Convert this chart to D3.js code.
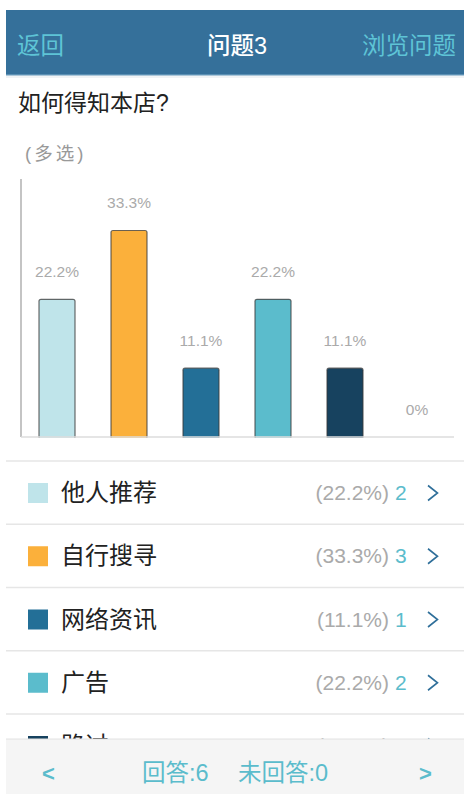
<!DOCTYPE html>
<html>
<head>
<meta charset="utf-8">
<script src="https://cdn.jsdelivr.net/npm/d3@7"></script>
<style>
  html, body { margin: 0; padding: 0; background: #fff; }
  svg { display: block; font-family: "Helvetica Neue", Arial, "Liberation Sans", "Noto Sans CJK SC", sans-serif; }
</style>
</head>
<body>
<div id="chart"></div>
<script>
// answers for question 3
let options = ["他人推荐", "自行搜寻", "网络资讯", "广告", "路过", "其他"];
let counts = [2, 3, 1, 2, 1, 0];
let percents = [22.2, 33.3, 11.1, 22.2, 11.1, 0];
let barColors = ["#bfe4ea", "#fbb03b", "#236f97", "#5bbccc", "#17425f", "#9aa6b2"];
let yMax = 41.6;
let answered = 6, unanswered = 0;

let width = 464, height = 794;

let svg = d3.select("#chart").append("svg")
    .attr("width", width)
    .attr("height", height);

//----------------------------------------
// header
svg.append("rect").attr("x", 6).attr("y", 10).attr("width", width - 6).attr("height", 65)
    .style("fill", "#35709a");
svg.append("rect").attr("x", 6).attr("y", 74).attr("width", width - 6).attr("height", 1.5)
    .style("fill", "#5a8fb3");
svg.append("rect").attr("x", 6).attr("y", 76.5).attr("width", width - 6).attr("height", 1)
    .style("fill", "#e4e8ec");

svg.append("text").attr("x", 17).attr("y", 54).text("返回")
    .style("font-size", "23.5px").style("fill", "#5ec4d6");
svg.append("text").attr("x", 237).attr("y", 54).text("问题3")
    .attr("text-anchor", "middle")
    .style("font-size", "23.5px").style("font-weight", 500).style("fill", "#fff");
svg.append("text").attr("x", 456).attr("y", 54).text("浏览问题")
    .attr("text-anchor", "end")
    .style("font-size", "23.5px").style("fill", "#5ec4d6");

svg.append("text").attr("x", 18).attr("y", 111).text("如何得知本店?")
    .style("font-size", "23px").style("fill", "#222");
svg.append("text").attr("x", 25).attr("y", 160).text("(多选)")
    .style("font-size", "18.5px").style("letter-spacing", "3px").style("fill", "#999");

//----------------------------------------
// bar chart
let x = d3.scaleBand()
    .domain(options)
    .range([21, 453])
    .paddingInner(0.5)
    .paddingOuter(0.25);
let y = d3.scaleLinear()
    .domain([0, yMax])
    .range([437, 179]);

let rows = options.map(function(d, i) {
    return {name: d, count: counts[i], pct: percents[i], color: barColors[i]};
});

svg.append("line")
    .attr("x1", 21).attr("x2", 21).attr("y1", y(yMax)).attr("y2", y(0))
    .style("stroke", "#b0b0b0").style("stroke-width", 1.5);

svg.selectAll("rect.bar")
    .data(rows.filter(function(d) { return d.pct > 0; }))
    .enter()
    .append("rect")
    .attr("class", "bar")
    .attr("x", function(d) { return x(d.name); })
    .attr("y", function(d) { return y(d.pct); })
    .attr("width", x.bandwidth())
    .attr("height", function(d) { return y(0) - y(d.pct) + 2; })
    .attr("rx", 2)
    .style("fill", function(d) { return d.color; })
    .style("stroke", "#3a3a3a")
    .style("stroke-opacity", 0.75)
    .style("stroke-width", 1.2);

// cover the bottom of the bars so they sit on the base line
svg.append("rect").attr("x", 21.8).attr("y", y(0) + 0.8).attr("width", 440).attr("height", 4)
    .style("fill", "#fff");
svg.append("line")
    .attr("x1", 21).attr("x2", 454).attr("y1", y(0)).attr("y2", y(0))
    .style("stroke", "#dcdcdc").style("stroke-width", 1.5);

svg.selectAll("text.pct")
    .data(rows)
    .enter()
    .append("text")
    .attr("class", "pct")
    .attr("x", function(d) { return x(d.name) + x.bandwidth() / 2; })
    .attr("y", function(d) { return y(d.pct) - 22; })
    .attr("text-anchor", "middle")
    .text(function(d) { return d.pct + "%"; })
    .style("font-size", "15.5px")
    .style("fill", "#aaa");

//----------------------------------------
// option list (rows below the footer are hidden)
let rowTop = 461, rowH = 63.25, footerTop = 739;

let list = svg.selectAll("g.row")
    .data(rows.filter(function(d, i) { return rowTop + i * rowH < footerTop; }))
    .enter()
    .append("g")
    .attr("class", "row")
    .attr("transform", function(d, i) { return "translate(0," + (rowTop + i * rowH) + ")"; });

list.append("line")
    .attr("x1", 6).attr("x2", width).attr("y1", 0).attr("y2", 0)
    .style("stroke", "#e6e6e6").style("stroke-width", 1.5);
list.append("rect")
    .attr("x", 28).attr("y", 22).attr("width", 20).attr("height", 20)
    .style("fill", function(d) { return d.color; });
list.append("text")
    .attr("x", 61).attr("y", 40)
    .text(function(d) { return d.name; })
    .style("font-size", "24px").style("fill", "#222");
list.append("text")
    .attr("x", 389).attr("y", 39)
    .attr("text-anchor", "end")
    .text(function(d) { return "(" + d.pct + "%)"; })
    .style("font-size", "21px").style("fill", "#aaa");
list.append("text")
    .attr("x", 395).attr("y", 39)
    .text(function(d) { return d.count; })
    .style("font-size", "21px").style("fill", "#5bbccc");
list.append("path")
    .attr("d", "M428,24.5 L437.5,32 L428,39.5")
    .style("fill", "none").style("stroke", "#2f6f9a").style("stroke-width", 1.6);

//----------------------------------------
// footer
svg.append("rect").attr("x", 6).attr("y", footerTop).attr("width", width - 6).attr("height", height - footerTop)
    .style("fill", "#f5f5f5");
svg.append("line").attr("x1", 6).attr("x2", width).attr("y1", footerTop).attr("y2", footerTop)
    .style("stroke", "#e2e2e2").style("stroke-width", 1);

svg.append("text").attr("x", 42).attr("y", 781).text("<")
    .style("font-size", "22px").style("font-weight", 600).style("fill", "#5bbccc");
svg.append("text").attr("x", 142).attr("y", 781).text("回答:" + answered)
    .style("font-size", "23.5px").style("fill", "#5bbccc");
svg.append("text").attr("x", 238).attr("y", 781).text("未回答:" + unanswered)
    .style("font-size", "23.5px").style("fill", "#5bbccc");
svg.append("text").attr("x", 419).attr("y", 781).text(">")
    .style("font-size", "22px").style("font-weight", 600).style("fill", "#5bbccc");
</script>
</body>
</html>
